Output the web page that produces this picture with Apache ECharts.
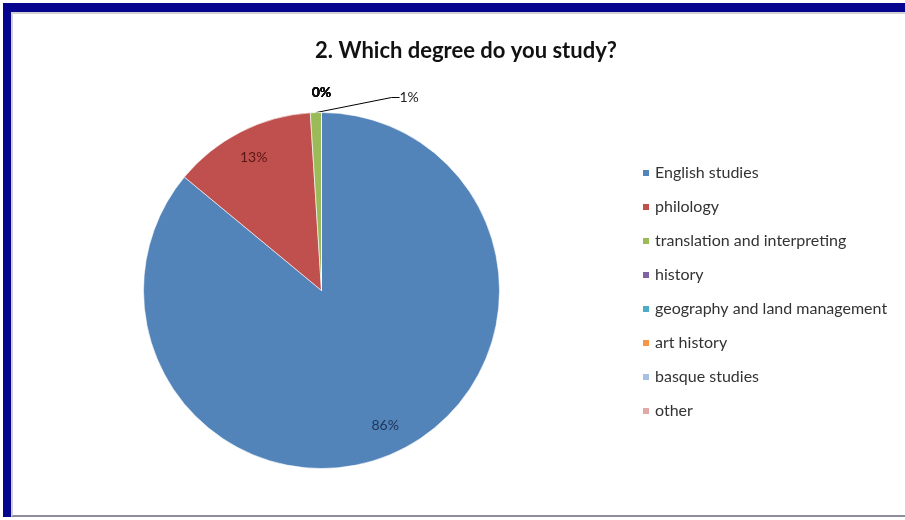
<!DOCTYPE html>
<html>
<head>
<meta charset="utf-8">
<script src="https://cdn.jsdelivr.net/npm/echarts@6/dist/echarts.min.js"></script>
<style>
  html, body { margin: 0; padding: 0; background: #ffffff; width: 905px; height: 520px; overflow: hidden; }
  /* window frame: dark blue edge, thin grey bevel inside */
  #frame { position: absolute; left: 3px; top: 3px; width: 902px; height: 514px;
           border-left: 8px solid #05058e; border-top: 9px solid #05058e; box-sizing: border-box; }
  #bevel { position: absolute; left: 0; top: 0; right: 0; bottom: 0;
           border-left: 2px solid #d2d2d6; border-top: 2px solid #d2d2d6; border-bottom: 2px solid #8c8c9c; }
  #chart { position: absolute; left: 0; top: 0; width: 905px; height: 520px; }
</style>
</head>
<body>
<div id="frame"><div id="bevel"></div></div>
<div id="chart"></div>
<script>
// Survey answers: share of respondents by degree (percent)
const degrees = [
  'English studies', 'philology', 'translation and interpreting', 'history',
  'geography and land management', 'art history', 'basque studies', 'other'
];
const shares = [86, 13, 1, 0, 0, 0, 0, 0];
const sliceColors = ['#5283b9', '#c0504d', '#9bbb59', '#8064a2', '#4bacc6', '#f79646', '#a7c0df', '#e0a9a7'];
const labelColors = ['#1d3557', '#5a1614', '#222', '#111', '#111', '#111', '#111', '#111'];

// pie geometry (px)
const CX = 321.5, CY = 290.5, R = 178;

const total = shares.reduce((a, b) => a + b, 0);
// mid angle of each slice, clockwise from 12 o'clock (radians)
const midAngles = [];
{
  let acc = 0;
  shares.forEach(v => { midAngles.push((acc + v / 2) / total * Math.PI * 2); acc += v; });
}

const chart = echarts.init(document.getElementById('chart'), null, { renderer: 'canvas' });

const data = degrees.map((name, i) => {
  const item = {
    name: name,
    value: shares[i],
    itemStyle: { color: sliceColors[i] },
    label: { color: labelColors[i] },
    labelLine: { show: false }
  };
  if (i === 2) {
    item.label.position = 'outside';
    item.labelLine = { show: true, length: 8, length2: 8, lineStyle: { color: '#000', width: 1 } };
  } else if (shares[i] === 0) {
    item.label.position = 'outside';
    item.label.fontWeight = 'bold';
  } else {
    item.label.position = 'inside';
  }
  return item;
});

chart.setOption({
  backgroundColor: 'transparent',
  animation: false,
  title: {
    text: '2. Which degree do you study?',
    left: 461,
    top: 35,
    textAlign: 'center',
    textStyle: { fontFamily: 'Lato', fontSize: 22, fontWeight: 'bold', color: '#111' }
  },
  legend: {
    orient: 'vertical',
    left: 641,
    top: 165,
    padding: 0,
    itemWidth: 8,
    itemHeight: 8,
    itemGap: 18,
    icon: 'rect',
    textStyle: { fontFamily: 'Lato', fontSize: 16, color: '#333', lineHeight: 16 },
    data: degrees
  },
  series: [{
    type: 'pie',
    center: [CX, CY],
    radius: R,
    startAngle: 90,
    clockwise: true,
    avoidLabelOverlap: false,
    legendHoverLink: false,
    itemStyle: { borderColor: '#ffffff', borderWidth: 0.6 },
    label: {
      formatter: p => Math.round(p.value / total * 100) + '%',
      fontFamily: 'Lato',
      fontSize: 14
    },
    labelLayout: params => {
      const i = params.dataIndex;
      const v = shares[i];
      if (i === 2) {
        return { x: CX + 78, y: CY - R - 15, align: 'left', verticalAlign: 'middle' };
      }
      if (v === 0) {
        return { x: CX, y: CY - R - 20, align: 'center', verticalAlign: 'middle' };
      }
      const a = midAngles[i];
      const rr = R * 0.84;
      return { x: CX + rr * Math.sin(a), y: CY - rr * Math.cos(a), align: 'center', verticalAlign: 'middle' };
    },
    data: data
  }]
});
</script>
</body>
</html>
